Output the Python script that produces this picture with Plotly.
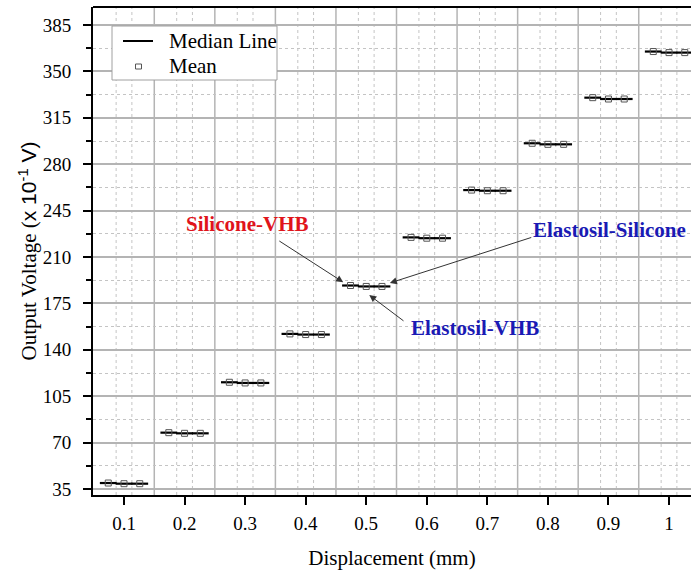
import plotly.graph_objects as go

# ---- data ----
displacement = [0.1, 0.2, 0.3, 0.4, 0.5, 0.6, 0.7, 0.8, 0.9, 1.0]
offsets = [-0.026, 0.0, 0.026]  # Silicone-VHB, Elastosil-VHB, Elastosil-Silicone
silicone_vhb = [39.5, 77.5, 115.5, 152.0, 188.5, 224.8, 260.5, 295.8, 330.2, 365.0]
elastosil_vhb = [39.0, 77.0, 115.0, 151.5, 187.8, 224.2, 260.0, 295.0, 329.2, 364.2]
elastosil_silicone = [39.0, 77.0, 115.0, 151.5, 187.8, 224.2, 260.0, 295.0, 329.2, 364.2]
x_ticks = [0.1, 0.2, 0.3, 0.4, 0.5, 0.6, 0.7, 0.8, 0.9, 1.0]
x_tick_labels = ["0.1", "0.2", "0.3", "0.4", "0.5", "0.6", "0.7", "0.8", "0.9", "1"]
y_ticks = [35, 70, 105, 140, 175, 210, 245, 280, 315, 350, 385]
legend_labels = ["Median Line", "Mean"]

series = [silicone_vhb, elastosil_vhb, elastosil_silicone]

xs, ys = [], []
for off, vals in zip(offsets, series):
    for d, v in zip(displacement, vals):
        xs.append(round(d + off, 4))
        ys.append(v)

SERIF = "Liberation Serif, Times New Roman, serif"

W, H = 691, 577
L, T, B = 93, 7, 82
PW, PH = W - L, H - T - B


def px(xp):  # window x pixel -> paper x
    return (xp - L) / PW


def py(yp):  # window y pixel -> paper y
    return 1 - (yp - T) / PH


fig = go.Figure()
# median lines
fig.add_trace(go.Scatter(x=xs, y=ys, mode="markers", showlegend=False, name=legend_labels[0],
                         marker=dict(symbol="line-ew", size=12,
                                     line=dict(color="black", width=2.2))))
# means
fig.add_trace(go.Scatter(x=xs, y=ys, mode="markers", showlegend=False, name=legend_labels[1],
                         marker=dict(symbol="square-open", size=6, color="#555555",
                                     line=dict(width=1))))

shapes = []
for k in range(1, 11):
    xv = round(0.05 + 0.1 * k, 3)
    if xv < 1.036:
        shapes.append(dict(type="line", xref="x", yref="paper", x0=xv, x1=xv, y0=0, y1=1,
                           line=dict(color="#b4b4b4", width=1.5), layer="below"))
for t in x_ticks:
    for dx in (-0.013, 0.013):
        shapes.append(dict(type="line", xref="x", yref="paper", x0=t + dx, x1=t + dx, y0=0, y1=1,
                           line=dict(color="#c4c4c4", width=1, dash="dot"), layer="below"))
shapes.append(dict(type="line", xref="paper", yref="paper", x0=0, x1=1, y0=1, y1=1,
                   line=dict(color="black", width=2)))

# legend box (drawn by hand to match the reference spacing)
shapes.append(dict(type="rect", xref="paper", yref="paper", x0=px(112), x1=px(277),
                   y0=py(80), y1=py(26), fillcolor="white", line=dict(color="#a0a0a0", width=1)))
shapes.append(dict(type="line", xref="paper", yref="paper", x0=px(123), x1=px(153),
                   y0=py(41), y1=py(41), line=dict(color="black", width=2)))
shapes.append(dict(type="rect", xref="paper", yref="paper", x0=px(135.5), x1=px(141.5),
                   y0=py(69), y1=py(64), line=dict(color="#555555", width=1), fillcolor="white"))

fig.update_layout(
    width=W, height=H,
    margin=dict(l=L, r=0, t=T, b=B, pad=0),
    paper_bgcolor="white", plot_bgcolor="white",
    shapes=shapes, showlegend=False,
    font=dict(family=SERIF, size=19, color="black"),
    xaxis=dict(range=[0.0488, 1.0363], tickvals=x_ticks, ticktext=x_tick_labels,
               ticks="outside", ticklen=8, tickwidth=2, tickcolor="black", automargin=False,
               showline=True, linecolor="black", linewidth=2, showgrid=False, zeroline=False,
               ticklabelstandoff=2,
               tickfont=dict(family=SERIF, size=19),
               title=dict(text="Displacement (mm)", font=dict(family=SERIF, size=21), standoff=18)),
    yaxis=dict(range=[30.47, 398.6], tickvals=y_ticks, automargin=False,
               ticks="outside", ticklen=8, tickwidth=2, tickcolor="black",
               showline=True, linecolor="black", linewidth=2, zeroline=False,
               ticklabelstandoff=8,
               showgrid=True, gridcolor="#b4b4b4", gridwidth=1.5,
               minor=dict(tickvals=[52.5 + 35 * i for i in range(10)], ticks="outside",
                          ticklen=5, tickwidth=1.5, tickcolor="black",
                          showgrid=True, gridcolor="#c4c4c4", griddash="dot", gridwidth=1),
               tickfont=dict(family=SERIF, size=19),
               title=dict(text="Output Voltage (<span style='font-family:Liberation Sans, Arial, sans-serif'>x 10<sup>-1</sup> V)</span>",
                          font=dict(family=SERIF, size=21), standoff=0)),
)

for label, yp in zip(legend_labels, (41, 66)):
    fig.add_annotation(xref="paper", yref="paper", x=px(167), y=py(yp), xanchor="left",
                       yanchor="middle", text=label, showarrow=False,
                       font=dict(family=SERIF, size=21, color="black"))

arrow = dict(showarrow=True, arrowhead=2, arrowsize=1.4, arrowwidth=1,
             arrowcolor="#333333", standoff=0, text="", xref="x", yref="y",
             axref="x", ayref="y")
fig.add_annotation(x=0.462, y=191.0, ax=0.354, ay=222.8, **arrow)
fig.add_annotation(x=0.539, y=190.4, ax=0.775, ay=225.1, **arrow)
fig.add_annotation(x=0.505, y=181.3, ax=0.564, ay=161.0, **arrow)

ann_font = dict(family=SERIF, size=21)
fig.add_annotation(xref="paper", yref="paper", x=px(247), y=py(224), xanchor="center", yanchor="middle",
                   text="<b>Silicone-VHB</b>", showarrow=False,
                   font=dict(ann_font, color="#e0141b"))
fig.add_annotation(xref="paper", yref="paper", x=px(609), y=py(230), xanchor="center", yanchor="middle",
                   text="<b>Elastosil-Silicone</b>", showarrow=False,
                   font=dict(ann_font, color="#1a1ab4"))
fig.add_annotation(xref="paper", yref="paper", x=px(475), y=py(328), xanchor="center", yanchor="middle",
                   text="<b>Elastosil-VHB</b>", showarrow=False,
                   font=dict(ann_font, color="#1a1ab4"))

fig.write_html("out.html", config={"displayModeBar": False},
               post_script="document.body.style.margin='0';document.body.style.overflow='hidden';")
